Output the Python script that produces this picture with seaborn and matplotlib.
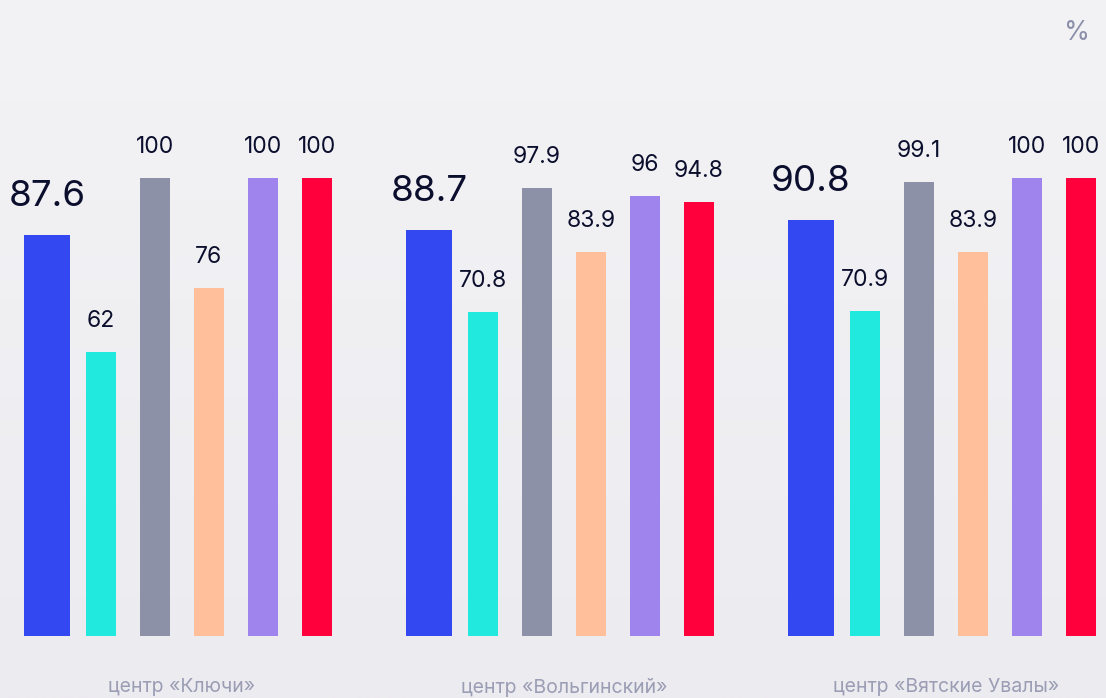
import numpy as np
import pandas as pd
import matplotlib
matplotlib.use("Agg")
import matplotlib.pyplot as plt
import seaborn as sns
from matplotlib.colors import LinearSegmentedColormap

# ---- data ----
categories = ["центр «Ключи»", "центр «Вольгинский»", "центр «Вятские Увалы»"]
series = ["s1", "s2", "s3", "s4", "s5", "s6"]
values_s1 = [87.6, 88.7, 90.8]
values_s2 = [62, 70.8, 70.9]
values_s3 = [100, 97.9, 99.1]
values_s4 = [76, 83.9, 83.9]
values_s5 = [100, 96, 100]
values_s6 = [100, 94.8, 100]
colors = ["#3448F2", "#22E9DD", "#8C91A8", "#FFBF9B", "#A084EE", "#FF003C"]
unit_label = "%"

all_values = [values_s1, values_s2, values_s3, values_s4, values_s5, values_s6]
rows = []
for s, vals in zip(series, all_values):
    for c, v in zip(categories, vals):
        rows.append({"category": c, "series": s, "value": v})
df = pd.DataFrame(rows)

sns.set_style("white")
plt.rcParams["font.family"] = ["Inter", "DejaVu Sans"]

W, H = 1106, 698
fig = plt.figure(figsize=(W / 100, H / 100), dpi=100)

# background gradient
bg = fig.add_axes([0, 0, 1, 1], zorder=0)
cmap = LinearSegmentedColormap.from_list("bg", ["#ecebf0", "#f3f3f5"])
grad = np.linspace(0, 1, 256).reshape(-1, 1)
bg.imshow(grad, aspect="auto", cmap=cmap, origin="lower", extent=[0, 1, 0, 1])
bg.axis("off")

ax = fig.add_axes([0, 0, 1, 1], zorder=1)
ax.set_facecolor("none")

px_per_unit_x = 382.0
group0_px = 182.0
spacing_px = 54.0
group_width = 6 * spacing_px / px_per_unit_x

sns.barplot(data=df, x="category", y="value", hue="series", order=categories,
            hue_order=series, palette=colors, width=group_width, dodge=True,
            saturation=1, legend=False, ax=ax, errorbar=None)

base_px = 62.0
px_per_unit_y = 4.58
ax.set_xlim(-group0_px / px_per_unit_x, (W - group0_px) / px_per_unit_x)
ax.set_ylim(-base_px / px_per_unit_y, (H - base_px) / px_per_unit_y)

dark = "#0B0E2C"
for k, cont in enumerate(ax.containers):
    bw = (46 if k == 0 else 30) / px_per_unit_x
    for patch, v in zip(cont.patches, all_values[k]):
        cx = patch.get_x() + patch.get_width() / 2
        patch.set_width(bw)
        patch.set_x(cx - bw / 2)
        patch.set_edgecolor("none")
        label = f"{v:g}"
        if k == 0:
            ax.annotate(label, (cx, v), xytext=(0, 29), textcoords="offset pixels",
                        ha="center", va="baseline", fontsize=26.5, color=dark)
        else:
            ax.annotate(label, (cx, v), xytext=(0, 25), textcoords="offset pixels",
                        ha="center", va="baseline", fontsize=16.5, color=dark)

for i, c in enumerate(categories):
    ax.text(i, -11.2, c, ha="center", va="center", fontsize=14, color="#9A9DB4")

ax.text(0.974, 0.953, unit_label, transform=ax.transAxes, ha="center", va="center",
        fontsize=19, color="#8A8EA8")

ax.axis("off")
fig.savefig("out.png", dpi=100)
